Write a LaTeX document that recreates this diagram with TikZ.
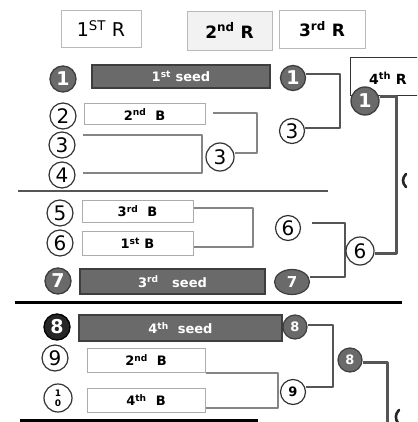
\documentclass[tikz,border=0pt]{standalone}
\usepackage{fontspec}
\setmainfont{DejaVu Sans}
\usetikzlibrary{shapes.geometric}
\definecolor{dk}{HTML}{6A6A6A}
\definecolor{dkb}{HTML}{3E3E3E}
\definecolor{ln}{HTML}{555555}
\definecolor{lg}{HTML}{858585}
\begin{document}
\begin{tikzpicture}[x=1pt,y=-1pt,
  hdr/.style={draw=gray!55,fill=white,line width=0.8pt,inner sep=0pt,font=\fontsize{19}{19}\selectfont},
  wbox/.style={draw=gray!65,fill=white,line width=1pt,inner sep=0pt,font=\bfseries\fontsize{13}{13}\selectfont},
  dbar/.style={draw=dkb,fill=dk,line width=1.3pt,inner sep=0pt,text=white,font=\bfseries\fontsize{13}{13}\selectfont},
  wc/.style={circle,draw=black!80,fill=white,line width=1.2pt,inner sep=0pt,minimum size=26pt,font=\fontsize{20}{20}\selectfont},
  dc/.style={circle,draw=dkb,fill=dk,line width=1.3pt,inner sep=0pt,minimum size=26pt,text=white,font=\bfseries\fontsize{19}{19}\selectfont},
  sc/.style={circle,draw=dkb,fill=dk,line width=1.2pt,inner sep=0pt,minimum size=24pt,text=white,font=\bfseries\fontsize{13}{13}\selectfont},
  conn/.style={draw=ln,line width=2.8pt,line join=round},
  brk/.style={draw=lg,line width=2pt,line join=round},
  sep/.style={line width=3pt,draw=black}]
\clip (0,0) rectangle (417,422);
\fill[white] (0,0) rectangle (417,422);

% headers
\node[hdr,minimum width=80pt,minimum height=37pt] (h1) at (101,28.5) {1\textsuperscript{ST} R};
\node[hdr,fill=gray!10,minimum width=85pt,minimum height=39pt,font=\bfseries\fontsize{17}{17}\selectfont] (h2) at (229.5,30.5) {2\textsuperscript{nd} R};
\node[hdr,minimum width=86pt,minimum height=38pt,font=\bfseries\fontsize{17}{17}\selectfont] (h3) at (322,29) {3\textsuperscript{rd} R};
\node[draw=black!80,fill=white,line width=1.3pt,minimum width=80pt,minimum height=38pt,anchor=north west] (h4) at (350,57) {};
\node[anchor=west,inner sep=0pt,font=\bfseries\fontsize{14}{14}\selectfont] (h4t) at (369,78) {4\textsuperscript{th} R};

% separators
\draw[sep,draw=ln,line width=2.4pt] (18,191) -- (328,191);
\draw[sep] (15,302) -- (402,302);
\draw[sep] (20,420) -- (258,420);

% first round bars and boxes
\node[dbar,minimum width=178pt,minimum height=23pt] (b1) at (181,76.5) {1\textsuperscript{st} seed};
\node[wbox,minimum width=121pt,minimum height=21pt] (b2) at (144.5,114.5) {2\textsuperscript{nd}\ \ B};
\node[wbox,minimum width=111pt,minimum height=22pt] (b5) at (137.5,211) {3\textsuperscript{rd}\ \ B};
\node[wbox,minimum width=111pt,minimum height=24pt] (b6) at (137.5,243) {1\textsuperscript{st} B};
\node[dbar,minimum width=185pt,minimum height=25pt] (b7) at (172.5,281.5) {3\textsuperscript{rd}\ \ \ seed};
\node[dbar,minimum width=203pt,minimum height=26pt] (b8) at (180.5,328) {4\textsuperscript{th}\ \ seed};
\node[wbox,minimum width=118pt,minimum height=24pt] (b9) at (146,360) {2\textsuperscript{nd}\ \ B};
\node[wbox,minimum width=118pt,minimum height=24pt] (b10) at (146,400) {4\textsuperscript{th}\ \ B};

% first round brackets
\coordinate (k3) at (83,135);
\coordinate (k4) at (83,173);
\draw[brk] (k3) -- (202,135) -- (202,173) -- (k4);
\coordinate (k2) at (213,113);
\draw[brk] (b5.east |- 0,208) -- (253,208) -- (253,247) -- (b6.east |- 0,247);
\draw[brk] (b9.east |- 0,373) -- (278,373) -- (278,408) -- (b10.east |- 0,408);

% left circles
\node[dc] (c1) at (63,79) {1};
\node[wc] (c2) at (63,116) {2};
\node[wc] (c3) at (62,145) {3};
\node[wc] (c4) at (62,175) {4};
\node[wc] (c5) at (60,213) {5};
\node[wc] (c6) at (60,243) {6};
\node[dc] (c7) at (58,281) {7};
\node[dc,fill=black!85,draw=black] (c8) at (57,327) {8};
\node[wc] (c9) at (55,358) {9};
\node[wc,minimum size=28pt,align=center,font=\bfseries\fontsize{9}{10}\selectfont] (c10) at (58,398) {1\\0};

% second round
\node[wc,minimum size=28pt] (m3) at (220,157) {3};
\draw[brk] (k2) -- (257,113) -- (257,153) -- (m3.east |- 0,153);
\node[dc,minimum size=25pt] (n1) at (293,78) {1};
\node[wc,minimum size=25pt] (n3) at (292,131) {3};
\draw[conn] (n1.east |- 0,74) -- (340,74) -- (340,128) -- (n3.east |- 0,128);
\node[wc,minimum size=25pt] (n6) at (288,228) {6};
\node[ellipse,draw=dkb,fill=dk,line width=1.2pt,inner sep=0pt,minimum width=35pt,minimum height=25pt,text=white,font=\bfseries\fontsize{15}{15}\selectfont] (n7) at (292,282) {7};
\coordinate (k6) at (312,223);
\draw[conn] (k6) -- (345,223) -- (345,277) -- (n7.east |- 0,277);
\node[sc] (s8) at (295,327) {8};
\node[wc,minimum size=25pt,font=\bfseries\fontsize{13}{13}\selectfont] (s9) at (293,392) {9};
\draw[conn] (s8.east |- 0,325) -- (333,325) -- (333,387) -- (s9.east |- 0,387);

% third round
\node[wc,minimum size=28pt] (p6) at (360,251) {6};
\node[sc] (t8) at (350,360) {8};
\node[dc,minimum size=28pt] (q1) at (365,101) {1};
\draw[conn,line width=3pt] (q1.east |- 0,97) -- (396,97) -- (396,253) -- (p6.east |- 0,253);
\coordinate (kz) at (387,425);
\draw[conn,line width=3pt] (t8.east |- 0,362) -- (387,362) -- (kz);

% cut-off marks at the right edge
\draw[line width=2.6pt,black!85,line cap=round] (406,174) .. controls (402,178) and (402,183) .. (406,187);
\draw[line width=2.6pt,black!85,line cap=round] (399,410) .. controls (395,414) and (395,419) .. (398,423);
\end{tikzpicture}
\end{document}
